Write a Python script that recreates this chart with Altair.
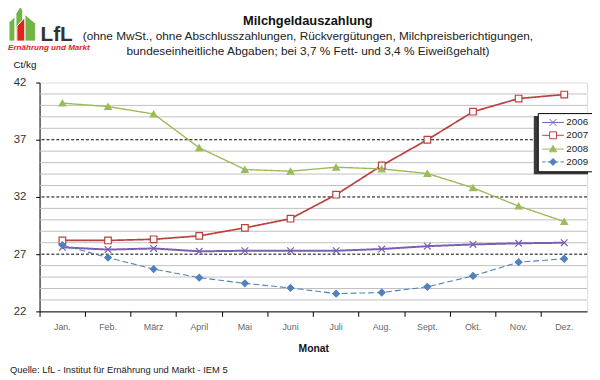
import altair as alt
import pandas as pd

FONT = "Liberation Sans"

# ---------------- data ----------------
months = ["Jan.", "Feb.", "März", "April", "Mai", "Juni", "Juli", "Aug.", "Sept.", "Okt.", "Nov.", "Dez."]
years = ["2006", "2007", "2008", "2009"]
v2006 = [27.6, 27.4, 27.5, 27.25, 27.3, 27.3, 27.3, 27.45, 27.7, 27.85, 27.95, 28.0]
v2007 = [28.2, 28.2, 28.3, 28.6, 29.3, 30.1, 32.2, 34.75, 37.0, 39.45, 40.6, 40.95]
v2008 = [40.2, 39.9, 39.25, 36.3, 34.4, 34.25, 34.6, 34.45, 34.05, 32.8, 31.2, 29.85]
v2009 = [27.8, 26.7, 25.7, 24.95, 24.45, 24.05, 23.55, 23.65, 24.15, 25.1, 26.3, 26.6]
y_ticks = [22, 27, 32, 37, 42]
minor_grid = [23, 24, 25, 26, 28, 29, 30, 31, 33, 34, 35, 36, 38, 39, 40, 41]
major_grid = [27, 32, 37]

series = {"2006": v2006, "2007": v2007, "2008": v2008, "2009": v2009}
rows = []
for yr in years:
    for m, v in zip(months, series[yr]):
        rows.append({"month": m, "year": yr, "value": v})
df = pd.DataFrame(rows)

# ---------------- styles ----------------
colors = ["#7B5FB3", "#B9413E", "#9BBB59", "#4F81BD"]
fills = ["#7B5FB3", "#FFFFFF", "#9BBB59", "#4F81BD"]
widths = [2, 1.1, 2.2, 2]
dashes = [[1, 0], [1, 0], [1, 0], [6, 3]]
point_shapes = ["M-1,-1L1,1M1,-1L-1,1", "square", "triangle-up", "diamond"]
legend_paths = [
    "M-1,0L3.4,0M0.5,-0.7L1.9,0.7M1.9,-0.7L0.5,0.7",
    "M-1,0L0.5,0M1.9,0L3.4,0M0.5,-0.7L1.9,-0.7L1.9,0.7L0.5,0.7Z",
    "M-1,0L3.4,0M1.2,-0.75L1.95,0.55L0.45,0.55Z",
    "M-1,0L-0.3,0M0.1,0L0.8,0M1.6,0L2.3,0M2.7,0L3.4,0M1.2,-0.7L1.9,0L1.2,0.7L0.5,0Z",
]

W, H = 555, 232

x_enc = alt.X(
    "month:N", sort=months, title="Monat",
    scale=alt.Scale(type="band", paddingInner=0, paddingOuter=0),
    axis=alt.Axis(bandPosition=0, labelAngle=0, labelFontSize=9, labelColor="#666666",
                  labelPadding=6, tickSize=5, tickColor="#000000", domainColor="#000000",
                  titleFontSize=10.5, titleFontWeight="bold", titleColor="#111111",
                  titleY=38, titleBaseline="middle", grid=False),
)
y_axis = alt.Axis(values=y_ticks, tickSize=4, tickColor="#000000", domainColor="#000000",
                  labelFontSize=11.5, labelColor="#333333", labelPadding=10, grid=False,
                  title="Ct/kg", titleAngle=0, titleAlign="left", titleBaseline="middle",
                  titleX=-27, titleY=-18, titleFontSize=10, titleFontWeight="normal",
                  titleColor="#111111")
y_scale = alt.Scale(domain=[22, 42], nice=False, zero=False)

minor = alt.Chart(pd.DataFrame({"g": minor_grid})).mark_rule(color="#C0C0C0", strokeWidth=1).encode(
    y=alt.Y("g:Q", scale=y_scale, axis=y_axis))
major = alt.Chart(pd.DataFrame({"v": major_grid})).mark_rule(color="#000000", strokeWidth=1, strokeDash=[3, 2]).encode(
    y=alt.Y("v:Q", scale=y_scale, axis=y_axis))

base = alt.Chart(df)

lines = base.mark_line().encode(
    x=x_enc,
    y=alt.Y("value:Q", scale=y_scale, axis=y_axis),
    color=alt.Color("year:N", scale=alt.Scale(domain=years, range=colors), legend=None),
    strokeDash=alt.StrokeDash("year:N", scale=alt.Scale(domain=years, range=dashes), legend=None),
    strokeWidth=alt.StrokeWidth("year:O", scale=alt.Scale(domain=years, range=widths), legend=None),
)

points = base.mark_point(size=45, strokeWidth=1.2, opacity=1, filled=True).encode(
    x=x_enc,
    y=alt.Y("value:Q", scale=y_scale, axis=y_axis),
    shape=alt.Shape("year:N", scale=alt.Scale(domain=years, range=point_shapes), legend=None),
    stroke=alt.Stroke("year:N", scale=alt.Scale(domain=years, range=colors), legend=None),
    fill=alt.Fill("year:N", scale=alt.Scale(domain=years, range=fills), legend=None),
)

leg = alt.Legend(title=None, orient="none", legendX=505, legendY=31, fillColor="#FFFFFF",
                 strokeColor="#000000", padding=4, labelFontSize=10, labelColor="#222222",
                 labelFont=FONT, symbolSize=100, symbolStrokeWidth=1, labelOffset=14,
                 rowPadding=2, symbolOpacity=1)

legend_layer = base.transform_calculate(year_l="datum.year").mark_point(opacity=0, filled=True).encode(
    x=x_enc,
    y=alt.Y("value:Q", scale=y_scale, axis=y_axis),
    shape=alt.Shape("year_l:N", scale=alt.Scale(domain=years, range=legend_paths), legend=leg),
    stroke=alt.Stroke("year_l:N", scale=alt.Scale(domain=years, range=colors), legend=leg),
    fill=alt.Fill("year_l:N", scale=alt.Scale(domain=years, range=fills), legend=leg),
)

# legend drop shadow (decoration behind the legend box)
shadow = alt.Chart(alt.Data(values=[{}])).mark_rect(color="#3A3A3A").encode(
    x=alt.value(501), x2=alt.value(556), y=alt.value(34), y2=alt.value(93))


def label(text, x, y, size, weight="normal", color="#000000", align="center", style="normal"):
    return alt.Chart(alt.Data(values=[{}])).mark_text(
        text=text, fontSize=size, fontWeight=weight, color=color, align=align,
        baseline="alphabetic", font=FONT, fontStyle=style,
    ).encode(x=alt.value(x), y=alt.value(y))


def leaf(path, color):
    return alt.Chart(alt.Data(values=[{}])).mark_point(
        shape=path, size=4, filled=True, fill=color, stroke="#FFFFFF", strokeWidth=1, opacity=1,
    ).encode(x=alt.value(-20), y=alt.value(-60))


texts = [
    label("Milchgeldauszahlung", 272, -58, 13, weight="bold", color="#111111"),
    label("(ohne MwSt., ohne Abschlusszahlungen, Rückvergütungen, Milchpreisberichtigungen,", 272, -43, 12, color="#222222"),
    label("bundeseinheitliche Abgaben; bei 3,7 % Fett- und 3,4 % Eiweißgehalt)", 272, -28, 12, color="#222222"),
    label("LfL", 1, -42, 21, weight="bold", color="#333333", align="left"),
    label("Ernährung und Markt", -32, -33, 8.2, weight="bold", color="#E2231A", align="left", style="italic"),
    label("Quelle: LfL - Institut für Ernährung und Markt - IEM 5", -30, 294, 9.5, color="#222222", align="left"),
    leaf("M-11,-1L-5,-7L-5,18L-11,18Z", "#72B544"),
    leaf("M-4,-10L1,-18L3,-12L3,18L-4,18Z", "#72B544"),
    leaf("M5,-9L16,0L16,18L5,18Z", "#72B544"),
    leaf("M-3,3L5,-6L5,18L-3,18Z", "#E2231A"),
]

chart = alt.layer(minor, major, lines, points, shadow, legend_layer, *texts).resolve_scale(
    shape="independent", stroke="independent", fill="independent"
).properties(
    width=W, height=H,
    autosize=alt.AutoSizeParams(type="none"),
    padding={"left": 32, "top": 73, "right": 5, "bottom": 67},
).configure_view(
    stroke="#A0A0A0", strokeWidth=1
).configure_axis(
    labelFont=FONT, titleFont=FONT
).configure(background="#FFFFFF")

chart.save("out.html", embed_options={"renderer": "svg", "actions": False})
